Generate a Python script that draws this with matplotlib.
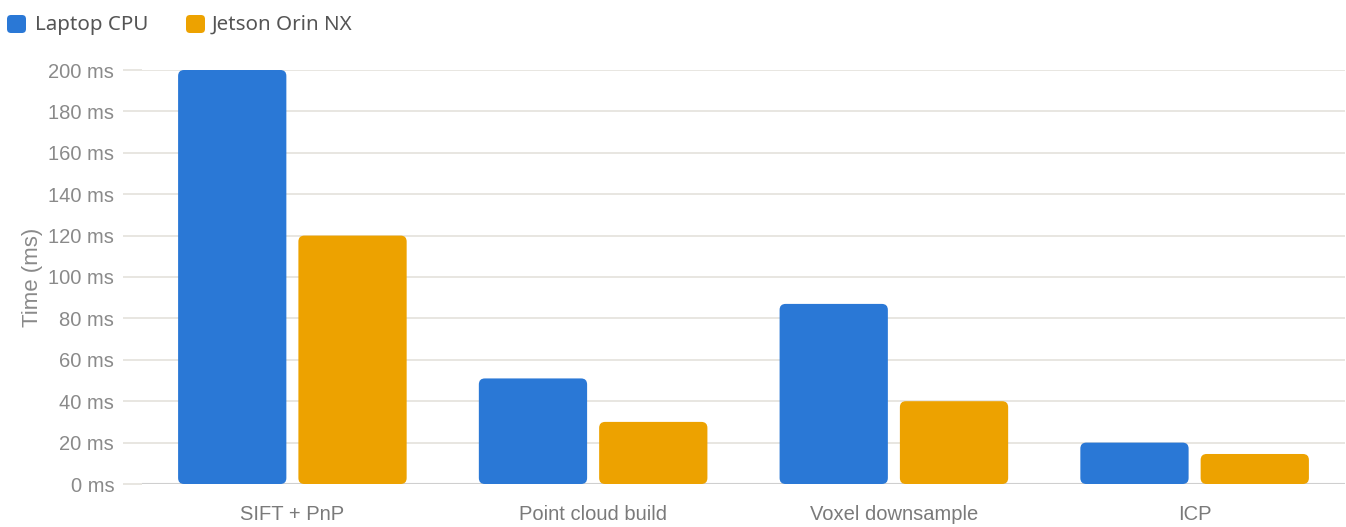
import matplotlib
matplotlib.use("Agg")
import matplotlib.pyplot as plt
from matplotlib.patches import FancyBboxPatch
import numpy as np

categories = ["SIFT + PnP", "Point cloud build", "Voxel downsample", "ICP"]
series_names = ["Laptop CPU", "Jetson Orin NX"]
laptop_cpu = [200, 51, 87, 20]
jetson_orin = [120, 30, 40, 14.5]
y_ticks = [0, 20, 40, 60, 80, 100, 120, 140, 160, 180, 200]
y_label = "Time (ms)"

colors = ["#2A78D6", "#EDA200"]
W, H = 1346, 527
fig = plt.figure(figsize=(W / 100, H / 100), dpi=100)
left_px, right_px, top_px, bot_px = 142, 1345, 70, 484
ax = fig.add_axes([left_px / W, (H - bot_px) / H, (right_px - left_px) / W, (bot_px - top_px) / H])

ax.set_xlim(-0.5, len(categories) - 0.5)
ax.set_ylim(0, 200)

x = np.arange(len(categories))
bw = 0.36
off = 0.2
px_per_x = (right_px - left_px) / len(categories)
px_per_y = (bot_px - top_px) / 200.0
r = 6 / px_per_x
aspect = px_per_x / px_per_y

for vals, c, o in [(laptop_cpu, colors[0], -off), (jetson_orin, colors[1], off)]:
    bars = ax.bar(x + o, vals, width=bw, color=c)
    for b in bars:
        bx, by, bwid, bh = b.get_x(), b.get_y(), b.get_width(), b.get_height()
        b.remove()
        p = FancyBboxPatch((bx, by), bwid, bh,
                           boxstyle=f"round,pad=0,rounding_size={r}",
                           mutation_aspect=aspect, facecolor=c, edgecolor="none",
                           clip_on=False, zorder=3)
        ax.add_patch(p)

ax.set_yticks(y_ticks)
ax.set_yticklabels([f"{v} ms" for v in y_ticks], fontfamily="Liberation Sans",
                   fontsize=14.5, color="#8a8a8a")
ax.set_xticks(x)
ax.set_xticklabels(categories, fontfamily="Liberation Sans", fontsize=14.5, color="#7a7a7a")
ax.tick_params(axis="y", length=14, width=1.2, color="#e4e2dc", pad=6)
ax.tick_params(axis="x", length=0, pad=15)
ax.grid(axis="y", color="#e4e2dc", linewidth=1.2, zorder=0)
ax.set_axisbelow(True)
for s in ax.spines.values():
    s.set_visible(False)
ax.axhline(0, color="#cfcfcf", linewidth=1.5, zorder=1)

ax.set_ylabel(y_label, fontfamily="Liberation Sans", fontsize=16, color="#8a8a8a", labelpad=4)

# legend
leg_items = [(7, 35, series_names[0], colors[0]), (186, 212, series_names[1], colors[1])]
for sx, tx, name, c in leg_items:
    sq = FancyBboxPatch((sx / W, (H - 33) / H), 19 / W, 18 / H,
                        boxstyle="round,pad=0,rounding_size=0.003",
                        mutation_aspect=W / H, transform=fig.transFigure,
                        facecolor=c, edgecolor="none")
    fig.patches.append(sq)
    fig.text(tx / W, (H - 25) / H, name, fontfamily="Noto Sans", fontsize=14.8,
             color="#555555", va="center", ha="left")

fig.savefig("out.png", dpi=100)
